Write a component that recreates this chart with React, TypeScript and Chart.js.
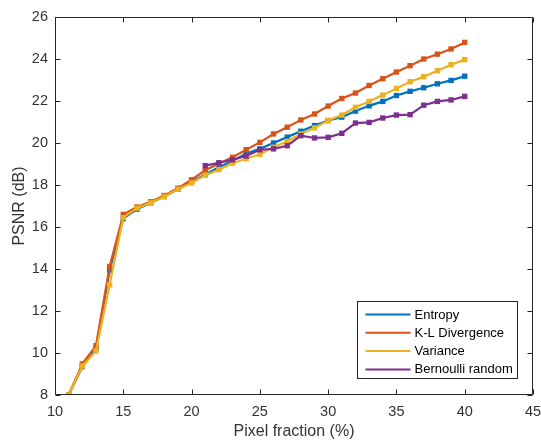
import React, { useEffect, useRef } from "react";
import { Chart, registerables } from "chart.js";

Chart.register(...registerables);

const pixelFraction = [11, 12, 13, 14, 15, 16, 17, 18, 19, 20, 21, 22, 23, 24, 25, 26, 27, 28, 29, 30, 31, 32, 33, 34, 35, 36, 37, 38, 39, 40];

const entropy = [8.0, 9.35, 10.2, 13.95, 16.4, 16.85, 17.15, 17.45, 17.8, 18.15, 18.5, 18.85, 19.15, 19.5, 19.72, 20.0, 20.28, 20.56, 20.83, 21.07, 21.23, 21.52, 21.77, 21.98, 22.26, 22.46, 22.63, 22.82, 22.98, 23.18];

const klDivergence = [8.0, 9.48, 10.35, 14.12, 16.6, 16.95, 17.2, 17.5, 17.85, 18.25, 18.7, 19.02, 19.32, 19.68, 20.03, 20.43, 20.75, 21.1, 21.38, 21.76, 22.12, 22.38, 22.74, 23.06, 23.38, 23.68, 24.0, 24.23, 24.48, 24.79];

const variance = [8.0, 9.38, 10.1, 13.25, 16.45, 16.9, 17.15, 17.45, 17.8, 18.1, 18.47, 18.73, 19.04, 19.25, 19.46, 19.8, 20.08, 20.43, 20.72, 21.07, 21.33, 21.7, 21.98, 22.28, 22.6, 22.92, 23.16, 23.44, 23.73, 23.97];

const bernoulli: (number | null)[] = [null, null, null, null, null, null, null, null, null, null, 18.92, 19.06, 19.2, 19.38, 19.68, 19.72, 19.87, 20.35, 20.24, 20.27, 20.46, 20.95, 20.98, 21.19, 21.33, 21.35, 21.8, 21.98, 22.05, 22.22];

const seriesLabels = ["Entropy", "K-L Divergence", "Variance", "Bernoulli random"];
const xTicks = [10, 15, 20, 25, 30, 35, 40, 45];
const yTicks = [8, 10, 12, 14, 16, 18, 20, 22, 24, 26];

const COLORS = ["#0072BD", "#D95319", "#EDB120", "#7E2F8E"];
const AXIS = "#262626";
const TEXT = "#333333";
const FONT = "'Liberation Sans', Arial, Helvetica, sans-serif";

const boxPlugin = {
  id: "matlabBox",
  afterDraw(chart: any) {
    const { ctx, chartArea } = chart;
    const { left, right, top, bottom } = chartArea;
    const xs = chart.scales.x;
    const ys = chart.scales.y;
    ctx.save();
    ctx.strokeStyle = AXIS;
    ctx.lineWidth = 1;
    const L = Math.round(left) + 0.5;
    const R = Math.round(right) - 0.5;
    const T = Math.round(top) + 0.5;
    const B = Math.round(bottom) - 0.5;
    ctx.beginPath();
    ctx.rect(L, T, R - L, B - T);
    ctx.stroke();
    const tl = 5;
    ctx.beginPath();
    xTicks.forEach((v) => {
      const px = Math.round(xs.getPixelForValue(v)) + 0.5;
      ctx.moveTo(px, B);
      ctx.lineTo(px, B - tl);
      ctx.moveTo(px, T);
      ctx.lineTo(px, T + tl);
    });
    yTicks.forEach((v) => {
      const py = Math.round(ys.getPixelForValue(v)) + 0.5;
      ctx.moveTo(L, py);
      ctx.lineTo(L + tl, py);
      ctx.moveTo(R, py);
      ctx.lineTo(R - tl, py);
    });
    ctx.stroke();

    // legend
    const bw = 160;
    const bh = 77;
    const bx = Math.round(right) - 16 - bw + 0.5;
    const by = Math.round(bottom) - 17 - bh + 0.5;
    ctx.fillStyle = "#ffffff";
    ctx.fillRect(bx, by, bw, bh);
    ctx.strokeStyle = AXIS;
    ctx.lineWidth = 1;
    ctx.strokeRect(bx, by, bw, bh);
    ctx.font = `13px ${FONT}`;
    ctx.textBaseline = "middle";
    ctx.textAlign = "left";
    chart.data.datasets.forEach((ds: any, i: number) => {
      const rowY = by + 13 + i * 18.3;
      ctx.strokeStyle = ds.borderColor;
      ctx.lineWidth = 2;
      ctx.beginPath();
      ctx.moveTo(bx + 8, rowY);
      ctx.lineTo(bx + 53, rowY);
      ctx.stroke();
      ctx.fillStyle = "#000000";
      ctx.fillText(ds.label, bx + 57, rowY + 0.5);
    });
    ctx.restore();
  },
};

export default function App() {
  const ref = useRef<HTMLCanvasElement | null>(null);
  useEffect(() => {
    if (!ref.current) return;
    const series = [entropy, klDivergence, variance, bernoulli];
    const datasets = series.map((vals, i) => ({
      label: seriesLabels[i],
      data: pixelFraction.map((x, j) => ({ x, y: vals[j] })),
      borderColor: COLORS[i],
      backgroundColor: COLORS[i],
      pointBackgroundColor: COLORS[i],
      pointBorderColor: COLORS[i],
      pointBorderWidth: 0,
      pointStyle: "rect",
      pointRadius: 3.8,
      borderWidth: 2.2,
      tension: 0,
      order: 3 - i,
      spanGaps: false,
    }));
    const chart = new Chart(ref.current, {
      type: "line",
      data: { datasets },
      plugins: [boxPlugin],
      options: {
        animation: false,
        responsive: false,
        events: [],
        layout: { padding: { top: 17, right: 8, left: 0, bottom: 0 } },
        plugins: { legend: { display: false }, tooltip: { enabled: false } },
        scales: {
          x: {
            type: "linear",
            min: 10,
            max: 45,
            afterFit: (s: any) => {
              s.height = 46;
              s.paddingLeft = 0;
              s.paddingRight = 0;
            },
            afterBuildTicks: (s: any) => {
              s.ticks = xTicks.map((v) => ({ value: v }));
            },
            grid: { display: false, drawTicks: false },
            border: { display: false },
            ticks: {
              padding: 8,
              color: TEXT,
              font: { family: FONT, size: 14.5 },
              maxRotation: 0,
            },
            title: {
              display: true,
              text: "Pixel fraction (%)",
              color: TEXT,
              font: { family: FONT, size: 16, lineHeight: 1 },
              padding: { top: 0, bottom: 1 },
            },
          },
          y: {
            type: "linear",
            min: 8,
            max: 26,
            afterFit: (s: any) => {
              s.width = 55;
              s.paddingTop = 0;
              s.paddingBottom = 0;
            },
            afterBuildTicks: (s: any) => {
              s.ticks = yTicks.map((v) => ({ value: v }));
            },
            grid: { display: false, drawTicks: false },
            border: { display: false },
            ticks: {
              padding: 7,
              color: TEXT,
              font: { family: FONT, size: 14.5 },
            },
            title: {
              display: true,
              text: "PSNR (dB)",
              color: TEXT,
              font: { family: FONT, size: 16 },
              padding: { top: 10, bottom: 0 },
            },
          },
        },
      },
    } as any);
    return () => chart.destroy();
  }, []);
  return (
    <div style={{ position: "absolute", left: 0, top: 0, width: 541, height: 441, background: "#fff" }}>
      <canvas ref={ref} width={541} height={441} style={{ display: "block" }} />
    </div>
  );
}
